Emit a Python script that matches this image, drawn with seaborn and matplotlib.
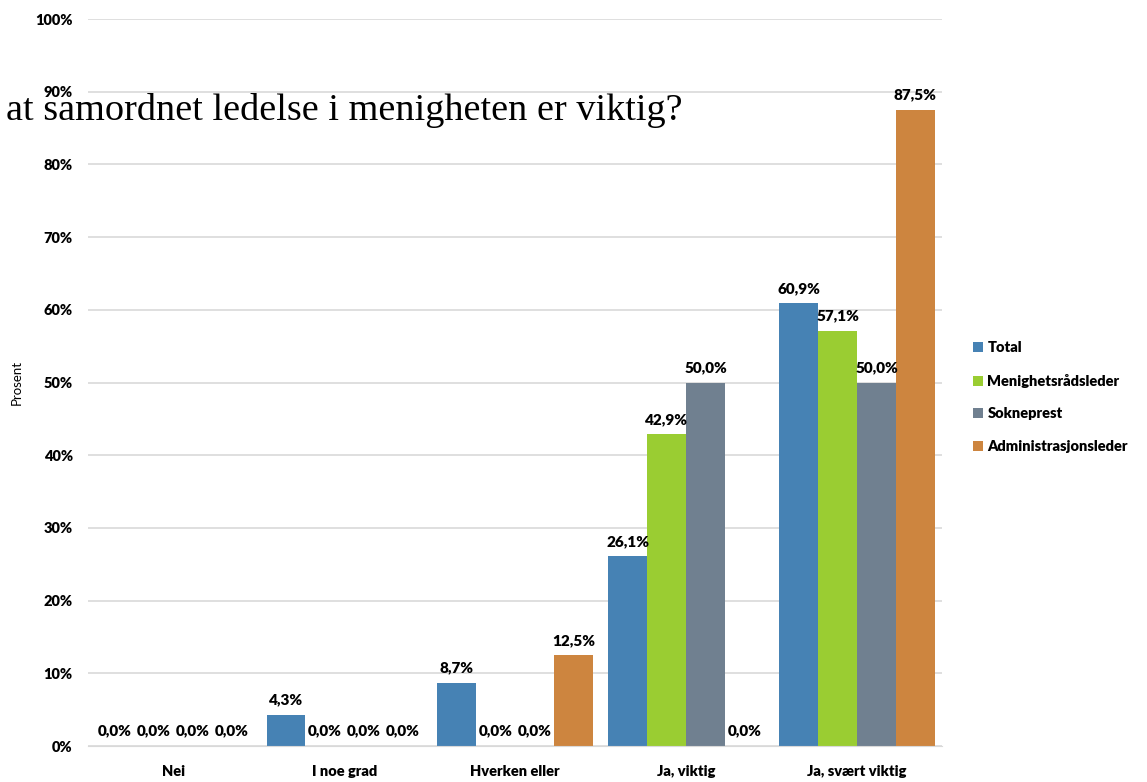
import pandas as pd
import matplotlib.pyplot as plt
import seaborn as sns
from matplotlib.ticker import PercentFormatter

# Data
categories = ["Nei", "I noe grad", "Hverken eller", "Ja, viktig", "Ja, svært viktig"]
groups = ["Total", "Menighetsrådsleder", "Sokneprest", "Administrasjonsleder"]
total = [0.0, 4.3, 8.7, 26.1, 60.9]
menighetsradsleder = [0.0, 0.0, 0.0, 42.9, 57.1]
sokneprest = [0.0, 0.0, 0.0, 50.0, 50.0]
administrasjonsleder = [0.0, 0.0, 12.5, 0.0, 87.5]
colors = ["#4682B4", "#9ACD32", "#708090", "#CD853F"]

rows = []
for g, vals in zip(groups, [total, menighetsradsleder, sokneprest, administrasjonsleder]):
    for c, v in zip(categories, vals):
        rows.append({"Svar": c, "Gruppe": g, "Prosent": v / 100})
df = pd.DataFrame(rows)

sns.set_style("white")
plt.rcParams["font.family"] = ["Lato", "DejaVu Sans"]
plt.rcParams["text.color"] = "black"
plt.rcParams["axes.labelcolor"] = "black"
plt.rcParams["xtick.color"] = "black"
plt.rcParams["ytick.color"] = "black"

fig = plt.figure(figsize=(11.47, 7.82), dpi=100)
ax = fig.add_axes([0.0767, 0.046, 0.745, 0.9297])

sns.barplot(data=df, x="Svar", y="Prosent", hue="Gruppe", order=categories,
            hue_order=groups, palette=colors, width=0.91, gap=0,
            saturation=1, ax=ax, errorbar=None, legend=True, linewidth=0)

for cont in ax.containers:
    ax.bar_label(cont, labels=[f"{b.get_height()*100:.1f}%".replace(".", ",") for b in cont],
                 padding=6, fontsize=11, fontweight="heavy", color="black")

ax.set_ylim(0, 1.0)
ax.set_yticks([i / 10 for i in range(11)])
ax.yaxis.set_major_formatter(PercentFormatter(1.0, decimals=0))
ax.grid(axis="y", color="#d9d9d9", linewidth=1.2)
ax.set_axisbelow(True)
for s in ["top", "right", "left"]:
    ax.spines[s].set_visible(False)
ax.spines["bottom"].set_color("#d9d9d9")
ax.tick_params(axis="x", length=0, labelsize=10.5, pad=14)
ax.tick_params(axis="y", length=0, labelsize=10.5, pad=11)
for t in ax.get_xticklabels() + ax.get_yticklabels():
    t.set_fontweight("heavy")
ax.set_xlabel("")
ax.set_ylabel("Prosent", fontsize=9.5, labelpad=9)

ax.legend(loc="center left", bbox_to_anchor=(1.02, 0.48), frameon=False,
          prop={"size": 10.5, "weight": "heavy"}, handlelength=0.7,
          handleheight=0.7, handletextpad=0.3, labelspacing=1.35)

fig.text(683 / 1147, 1 - 110 / 782, "at samordnet ledelse i menigheten er viktig?",
         ha="right", va="center", fontsize=27.5, family="Liberation Serif",
         color="black")

fig.savefig("out.png", dpi=100)
